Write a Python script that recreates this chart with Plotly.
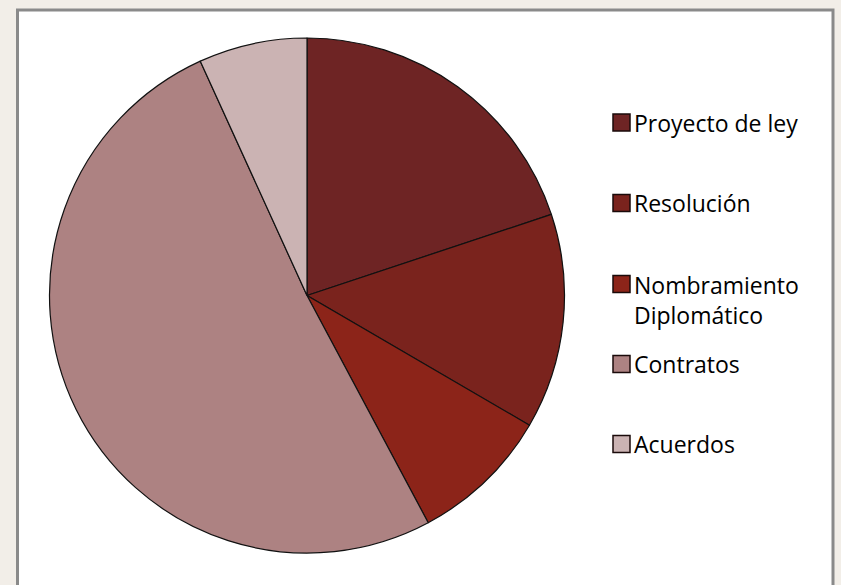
import plotly.graph_objects as go

# ---- data ----
categories = ["Proyecto de ley", "Resolución", "Nombramiento Diplomático", "Contratos", "Acuerdos"]
legend_labels = ["Proyecto de ley", "Resolución", "Nombramiento<br>Diplomático", "Contratos", "Acuerdos"]
values = [19.9, 13.5, 8.8, 51.0, 6.8]
colors = ["#6e2424", "#7a231d", "#8c2419", "#ad8282", "#cbb3b3"]

W, H = 841, 585

def px(x):
    return x / W

def py(y):
    return 1 - y / H

fig = go.Figure()
fig.add_trace(go.Pie(
    labels=categories,
    values=values,
    sort=False,
    direction="clockwise",
    rotation=0,
    textinfo="none",
    hoverinfo="label+percent",
    marker=dict(colors=colors, line=dict(color="#111111", width=1.2)),
    domain=dict(x=[px(49), px(565)], y=[py(553), py(38)]),
    showlegend=False,
))

shapes = [
    dict(type="rect", xref="paper", yref="paper",
         x0=px(17.5), x1=px(833), y0=py(10), y1=py(600),
         fillcolor="white", line=dict(color="#8a8a8a", width=3), layer="below"),
]
annotations = []
legend_y = [122.5, 203, 284, 364, 444]
for lab, col, yc in zip(legend_labels, colors, legend_y):
    shapes.append(dict(type="rect", xref="paper", yref="paper",
                       x0=px(613), x1=px(630), y0=py(yc - 8.5), y1=py(yc + 8.5),
                       fillcolor=col, line=dict(color="#1a0a0a", width=1.5)))
    multi = "<br>" in lab
    annotations.append(dict(xref="paper", yref="paper", x=px(632),
                            y=py(yc - 17) if multi else py(yc),
                            xanchor="left", yanchor="top" if multi else "middle",
                            align="left", showarrow=False, text=lab,
                            font=dict(family="Open Sans, sans-serif", size=23, color="#000000")))

fig.update_layout(
    width=W, height=H,
    margin=dict(l=0, r=0, t=0, b=0),
    paper_bgcolor="#f2eee8",
    plot_bgcolor="white",
    shapes=shapes,
    annotations=annotations,
)

fig.write_html("out.html", config={"displayModeBar": False},
               post_script="document.body.style.margin='0';document.body.style.overflow='hidden';")
